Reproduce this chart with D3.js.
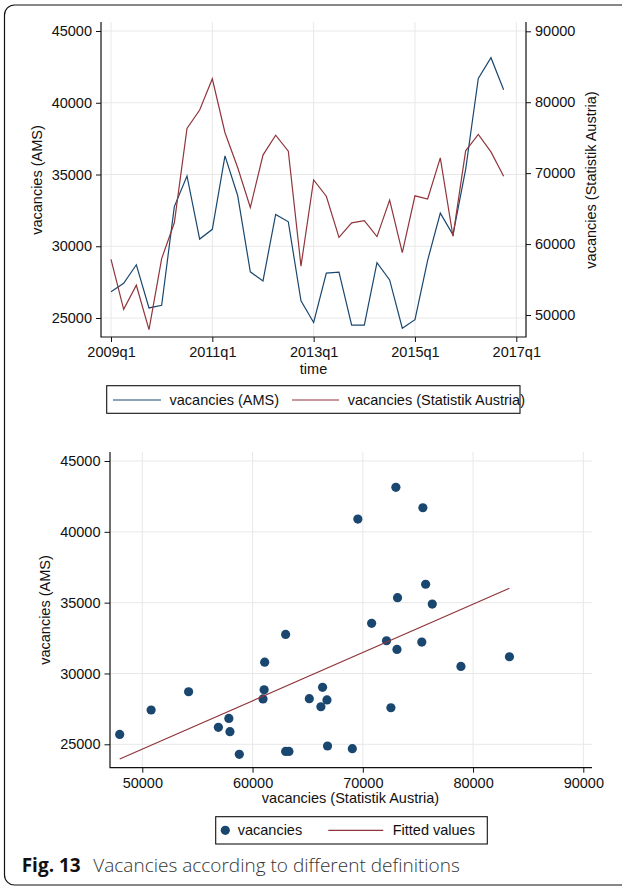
<!DOCTYPE html>
<html>
<head>
<meta charset="utf-8">
<script src="https://cdn.jsdelivr.net/npm/d3@7"></script>
<style>
  body { margin: 0; background: #fff; }
  svg { display: block; }
  .tick text { font-family: "Liberation Sans", Arial, sans-serif; font-size: 14.5px; fill: #111; }
  .lbl { font-family: "Liberation Sans", Arial, sans-serif; font-size: 14.5px; fill: #111; }
</style>
</head>
<body>
<div id="chart"></div>
<script>
// quarters, 2009q1 .. 2016q4
var quarters = ["2009q1","2009q2","2009q3","2009q4","2010q1","2010q2","2010q3","2010q4",
  "2011q1","2011q2","2011q3","2011q4","2012q1","2012q2","2012q3","2012q4",
  "2013q1","2013q2","2013q3","2013q4","2014q1","2014q2","2014q3","2014q4",
  "2015q1","2015q2","2015q3","2015q4","2016q1","2016q2","2016q3","2016q4"];

// vacancies (AMS)
var amsValues = [26830, 27420, 28710, 25700, 25890, 32760, 34900, 30500,
  31180, 36300, 33540, 28220, 27580, 32220, 31700, 26200,
  24690, 28130, 28200, 24500, 24500, 28850, 27650, 24290,
  24880, 29020, 32310, 30800, 35350, 41700, 43140, 40900];

// vacancies (Statistik Austria)
var statValues = [57850, 50800, 54200, 47950, 57950, 63000, 76300, 78900,
  83300, 75700, 70800, 65150, 72550, 75350, 73100, 56900,
  69050, 66750, 60950, 63000, 63300, 61050, 66200, 58800,
  66800, 66350, 72150, 61100, 73150, 75450, 73000, 69550];

var timeTicks = ["2009q1","2011q1","2013q1","2015q1","2017q1"];
var amsTicks = [25000, 30000, 35000, 40000, 45000];
var statTicks = [50000, 60000, 70000, 80000, 90000];

var blue = "#1a476f", red = "#90353b", grid = "#e8e8e8";

function qnum(s){ return +s.slice(0,4) + (+s.slice(5) - 1) / 4; }

var W = 622, H = 887;
var svg = d3.select("#chart").append("svg").attr("width", W).attr("height", H);

// outer frame
svg.append("rect").attr("x", 4.5).attr("y", 5).attr("width", 640).attr("height", 880)
  .attr("rx", 10).attr("fill", "none").attr("stroke", "#111").attr("stroke-width", 1.2);

// ---------- top: time series ----------
var t = {l: 101, r: 526, t: 22, b: 337};
var x1 = d3.scaleLinear().domain([2009, 2017]).range([111, 516.3]);
var yL = d3.scaleLinear().domain([25000, 45000]).range([318, 31]);
var yR = d3.scaleLinear().domain([50000, 90000]).range([315, 31.3]);

var g1 = svg.append("g");
g1.selectAll(".hg").data(amsTicks).enter().append("line")
  .attr("x1", t.l).attr("x2", t.r).attr("y1", d => yL(d)).attr("y2", d => yL(d))
  .attr("stroke", grid);
g1.selectAll(".vg").data(timeTicks).enter().append("line")
  .attr("x1", d => x1(qnum(d))).attr("x2", d => x1(qnum(d))).attr("y1", t.t).attr("y2", t.b)
  .attr("stroke", grid);

var line = d3.line().x((d, i) => x1(qnum(quarters[i])));
g1.append("path").datum(amsValues)
  .attr("d", line.y(d => yL(d))).attr("fill", "none").attr("stroke", blue).attr("stroke-width", 1.2);
g1.append("path").datum(statValues)
  .attr("d", line.y(d => yR(d))).attr("fill", "none").attr("stroke", red).attr("stroke-width", 1.2);

g1.append("g").attr("transform", "translate(" + t.l + ",0)")
  .call(d3.axisLeft(yL).tickValues(amsTicks).tickSize(5).tickPadding(4).tickFormat(d3.format("d")))
  .call(a => a.select(".domain").remove());
g1.append("g").attr("transform", "translate(" + t.r + ",0)")
  .call(d3.axisRight(yR).tickValues(statTicks).tickSize(5).tickPadding(4).tickFormat(d3.format("d")))
  .call(a => a.select(".domain").remove());
g1.append("g").attr("transform", "translate(0," + t.b + ")")
  .call(d3.axisBottom(x1).tickValues(timeTicks.map(qnum)).tickSize(5).tickPadding(5)
    .tickFormat((d, i) => timeTicks[i]))
  .call(a => a.select(".domain").remove());
g1.selectAll(".tick line").attr("stroke", "#111");

g1.append("path").attr("d", "M" + t.l + "," + t.t + "V" + t.b + "H" + t.r + "V" + t.t)
  .attr("fill", "none").attr("stroke", "#111").attr("stroke-width", 1.2);

g1.append("text").attr("class", "lbl").attr("transform", "translate(42,180) rotate(-90)")
  .attr("text-anchor", "middle").text("vacancies (AMS)");
g1.append("text").attr("class", "lbl").attr("transform", "translate(596,180) rotate(-90)")
  .attr("text-anchor", "middle").text("vacancies (Statistik Austria)");
g1.append("text").attr("class", "lbl").attr("x", 313.5).attr("y", 374)
  .attr("text-anchor", "middle").text("time");

// legend top
var lg1 = svg.append("g");
lg1.append("rect").attr("x", 106.7).attr("y", 385.7).attr("width", 413.3).attr("height", 27.6)
  .attr("fill", "#fff").attr("stroke", "#111").attr("stroke-width", 1.1);
lg1.append("line").attr("x1", 113).attr("x2", 161).attr("y1", 400).attr("y2", 400)
  .attr("stroke", blue).attr("stroke-width", 1.2);
lg1.append("text").attr("class", "lbl").attr("x", 169.5).attr("y", 404.8).text("vacancies (AMS)");
lg1.append("line").attr("x1", 292).attr("x2", 339).attr("y1", 400).attr("y2", 400)
  .attr("stroke", red).attr("stroke-width", 1.2);
lg1.append("text").attr("class", "lbl").attr("x", 347.7).attr("y", 404.8).text("vacancies (Statistik Austria)");

// ---------- bottom: scatter ----------
var s = {l: 110, r: 592, t: 452, b: 767.7};
var x2 = d3.scaleLinear().domain([50000, 90000]).range([142.3, 583.3]);
var y2 = d3.scaleLinear().domain([25000, 45000]).range([744.3, 461]);

var g2 = svg.append("g");
g2.selectAll(".hg").data(amsTicks).enter().append("line")
  .attr("x1", s.l).attr("x2", s.r).attr("y1", d => y2(d)).attr("y2", d => y2(d))
  .attr("stroke", grid);
g2.selectAll(".vg").data(statTicks).enter().append("line")
  .attr("x1", d => x2(d)).attr("x2", d => x2(d)).attr("y1", s.t).attr("y2", s.b)
  .attr("stroke", grid);

var pts = statValues.map((v, i) => ({x: v, y: amsValues[i]}));

// fitted values (OLS)
var mx = d3.mean(pts, d => d.x), my = d3.mean(pts, d => d.y);
var slope = d3.sum(pts, d => (d.x - mx) * (d.y - my)) / d3.sum(pts, d => (d.x - mx) * (d.x - mx));
var ext = d3.extent(pts, d => d.x);
var fit = ext.map(v => ({x: v, y: my + slope * (v - mx)}));

g2.selectAll("circle").data(pts).enter().append("circle")
  .attr("cx", d => x2(d.x)).attr("cy", d => y2(d.y)).attr("r", 4.6).attr("fill", blue);
g2.append("path").datum(fit)
  .attr("d", d3.line().x(d => x2(d.x)).y(d => y2(d.y)))
  .attr("fill", "none").attr("stroke", red).attr("stroke-width", 1.2);

g2.append("g").attr("transform", "translate(" + s.l + ",0)")
  .call(d3.axisLeft(y2).tickValues(amsTicks).tickSize(5.5).tickPadding(4).tickFormat(d3.format("d")))
  .call(a => a.select(".domain").remove());
g2.append("g").attr("transform", "translate(0," + s.b + ")")
  .call(d3.axisBottom(x2).tickValues(statTicks).tickSize(5).tickPadding(5).tickFormat(d3.format("d")))
  .call(a => a.select(".domain").remove());
g2.selectAll(".tick line").attr("stroke", "#111");

g2.append("path").attr("d", "M" + s.l + "," + s.t + "V" + s.b + "H" + s.r)
  .attr("fill", "none").attr("stroke", "#111").attr("stroke-width", 1.2);

g2.append("text").attr("class", "lbl").attr("transform", "translate(50,610) rotate(-90)")
  .attr("text-anchor", "middle").text("vacancies (AMS)");
g2.append("text").attr("class", "lbl").attr("x", 350.5).attr("y", 803)
  .attr("text-anchor", "middle").text("vacancies (Statistik Austria)");

// legend bottom
var lg2 = svg.append("g");
lg2.append("rect").attr("x", 215.7).attr("y", 816.7).attr("width", 271.6).attr("height", 27.3)
  .attr("fill", "#fff").attr("stroke", "#111").attr("stroke-width", 1.1);
lg2.append("circle").attr("cx", 225.3).attr("cy", 830.3).attr("r", 4.6).attr("fill", blue);
lg2.append("text").attr("class", "lbl").attr("x", 237.7).attr("y", 835.2).text("vacancies");
lg2.append("line").attr("x1", 328.3).attr("x2", 383.3).attr("y1", 830.3).attr("y2", 830.3)
  .attr("stroke", red).attr("stroke-width", 1.2);
lg2.append("text").attr("class", "lbl").attr("x", 392.7).attr("y", 835.2).text("Fitted values");

// caption
var cap = svg.append("text").attr("x", 21.7).attr("y", 872)
  .style("font-family", "'Open Sans', 'Noto Sans', sans-serif").style("font-size", "19px");
cap.append("tspan").style("font-weight", 700).attr("fill", "#111").text("Fig. 13");
cap.append("tspan").attr("x", 93.3).style("font-weight", 300).attr("fill", "#333")
  .text("Vacancies according to different definitions");
</script>
</body>
</html>
